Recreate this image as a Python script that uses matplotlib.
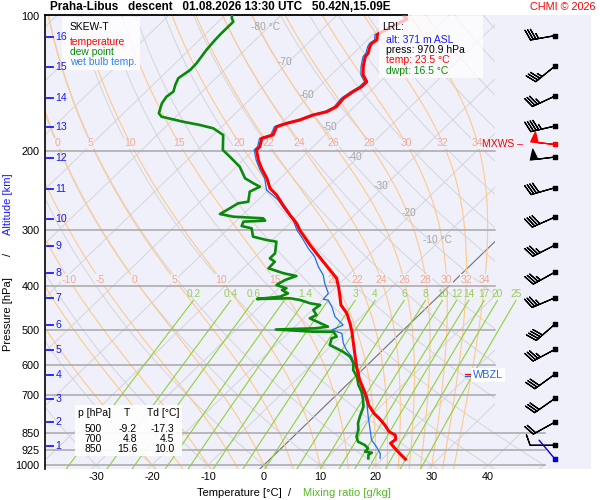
"""Skew-T diagram, Praha-Libus descent 01.08.2026 13:30 UTC."""

import numpy as np
import matplotlib.pyplot as plt
from matplotlib.patches import Polygon, Rectangle
from matplotlib.ticker import NullLocator, NullFormatter

plt.rcParams['font.family'] = ['Liberation Sans', 'DejaVu Sans']

# --- temperature profile (hPa, degC) ---
P_TEMP = [100.0, 101.6, 109.1, 110.1, 113.1, 115.0, 117.1, 121.1, 123.2, 129.7,
          135.3, 140.1, 143.7, 147.4, 152.5, 159.2, 163.4, 166.1, 170.5, 173.4,
          176.4, 184.1, 187.2, 195.5, 198.8, 209.3, 218.4, 229.9, 242.0, 250.4,
          263.6, 277.5, 289.5, 299.7, 323.6, 349.5, 367.9, 383.9, 400.8, 421.8,
          440.2, 459.4, 483.5, 504.8, 535.7, 573.9, 604.0, 646.7, 680.7, 704.5,
          735.1, 767.1, 791.1, 814.6, 843.0, 857.4, 876.5, 894.7, 917.9, 945.2,
          970.9]
T_TEMP = [-57.7, -56.8, -59.0, -59.2, -58.3, -58.6, -58.3, -57.4, -57.3, -55.8,
          -54.3, -52.4, -52.4, -53.0, -53.5, -53.2, -54.0, -55.8, -57.3, -59.0,
          -60.2, -59.3, -60.7, -59.5, -59.5, -57.3, -55.2, -52.4, -50.0, -47.6,
          -44.6, -41.5, -38.8, -37.0, -32.4, -27.5, -24.2, -21.5, -19.6, -17.5,
          -15.8, -13.2, -10.8, -8.9, -6.5, -3.7, -1.6, 1.4, 4.0, 5.7,
          7.6, 10.1, 12.3, 14.2, 16.2, 17.9, 18.8, 18.6, 20.3, 22.3,
          24.2]

# --- dew point ---
P_DWPT = [100.0, 101.2, 103.0, 104.7, 106.5, 109.3, 113.1, 119.0, 127.5, 131.9,
          137.6, 142.4, 147.4, 151.3, 156.5, 164.7, 167.6, 172.0, 174.9, 177.9,
          184.1, 198.8, 205.8, 216.6, 229.9, 235.8, 240.0, 246.2, 259.2, 261.3,
          270.5, 276.1, 279.9, 282.2, 285.7, 287.1, 293.6, 297.1, 310.1, 315.4,
          318.2, 337.7, 346.5, 352.6, 364.7, 374.1, 379.4, 387.3, 397.3, 404.1,
          407.6, 414.6, 421.8, 426.9, 425.3, 429.1, 436.4, 440.2, 451.7, 463.4,
          471.3, 492.0, 496.1, 499.1, 504.8, 504.8, 517.9, 522.2, 540.4, 549.7,
          559.4, 573.9, 593.6, 614.4, 635.9, 663.5, 686.7, 716.5, 741.6, 780.6,
          807.5, 835.7, 864.9, 887.4, 902.5, 917.9, 934.1, 938.9, 950.0, 966.2]
T_DWPT = [-88.6, -88.2, -87.3, -87.3, -87.3, -87.3, -87.2, -86.9, -86.2, -86.1,
          -86.7, -86.0, -85.1, -85.4, -85.0, -83.7, -82.6, -77.8, -74.2, -71.2,
          -68.2, -65.5, -63.0, -59.4, -56.3, -53.9, -52.1, -53.0, -51.4, -52.9,
          -53.7, -54.2, -51.3, -45.7, -44.9, -48.6, -48.1, -45.9, -44.1, -41.1,
          -39.0, -37.1, -37.1, -35.6, -35.5, -31.9, -29.1, -30.4, -31.0, -28.6,
          -29.1, -27.4, -28.2, -31.9, -26.1, -24.0, -21.6, -19.5, -19.8, -18.3,
          -18.9, -14.1, -16.1, -22.9, -15.8, -12.2, -10.7, -11.3, -10.4, -8.6,
          -6.8, -4.6, -2.8, -1.6, 0.3, 2.1, 3.9, 5.7, 7.0, 8.2,
          9.1, 10.4, 11.3, 12.5, 14.3, 15.5, 15.6, 17.0, 16.8, 17.4]

# --- wet bulb temperature ---
P_WBT = [100.0, 101.6, 109.1, 110.1, 113.1, 115.0, 117.1, 121.1, 123.2, 129.7,
         135.3, 140.1, 143.7, 147.4, 152.5, 159.2, 163.4, 166.1, 170.5, 173.4,
         176.4, 184.1, 187.2, 195.5, 198.8, 209.3, 218.4, 229.9, 244.1, 256.9,
         270.5, 284.7, 299.7, 315.4, 329.1, 343.6, 361.7, 377.4, 393.8, 414.6,
         427.6, 429.1, 444.1, 467.4, 479.6, 487.8, 500.4, 509.0, 535.7, 554.5,
         573.9, 614.4, 652.3, 686.7, 728.8, 780.6, 835.7, 879.7, 910.4, 941.8,
         966.2]
T_WBT = [-58.1, -57.2, -59.4, -59.6, -58.7, -59.0, -58.7, -57.8, -57.7, -56.2,
         -54.7, -52.8, -52.8, -53.4, -53.9, -53.6, -54.4, -56.2, -57.7, -59.4,
         -60.6, -59.7, -61.1, -59.9, -59.9, -57.7, -55.6, -52.8, -50.3, -46.4,
         -43.3, -40.0, -37.5, -34.5, -32.1, -29.4, -26.9, -24.5, -22.7, -20.2,
         -20.0, -19.0, -17.1, -14.7, -12.9, -11.7, -12.8, -10.4, -8.3, -6.5,
         -4.3, -1.0, 1.8, 4.2, 7.0, 9.7, 12.5, 14.6, 16.7, 18.6,
         19.5]

# --- wind (hPa, direction deg, speed kt) ---
P_WIND = [110.6, 129.2, 150.7, 175.8, 206.1, 241.2, 280.3, 323.6, 371.7,
          424.0, 485.3, 552.5, 627.1, 710.3, 802.1, 903.9]
DIR_WIND = [260, 231, 245, 257, 263, 254, 246, 243, 241, 247, 229, 242, 234,
            235, 241, 270]
SPD_WIND = [35, 35, 35, 45, 50, 40, 40, 35, 35, 35, 40, 35, 30, 30, 20, 10]
P_MXWS, DIR_MXWS, SPD_MXWS = 193.1, 276, 50
P_SFC_WIND, DIR_SFC_WIND = 971.2, 320

# --- altitude marks ---
KM = list(range(1, 17))
P_KM = [905.8, 803.3, 712.9, 630.4, 554.5, 487.8, 424.7, 373.6, 325.3, 283.2,
        243.2, 207.5, 176.7, 152.0, 130.1, 111.5]

# --- station / table ---
LRL_ALT, LRL_P, LRL_T, LRL_TD = 371, 970.9, 23.5, 16.5
TAB_P = [500, 700, 850]
TAB_T = [-9.2, 4.8, 15.6]
TAB_TD = [-17.3, 4.5, 10.0]
P_WBZL = 630

# --- diagram furniture ---
P_LEVELS = [100, 200, 300, 400, 500, 600, 700, 850, 925, 1000]
T_TICKS = [-30, -20, -10, 0, 10, 20, 30, 40]
ISO_LABELS = ['-80 °C', '-70', '-60', '-50', '-40', '-30', '-20', '-10 °C']
ISO_LABEL_T = [-80, -70, -60, -50, -40, -30, -20, -10]
ISO_LABEL_P = [105.8, 126.6, 150.0, 176.7, 206.1, 239.1, 274.7, 315.4]
THETA_W = [-20, -15, -10, -5, 0, 5, 10, 15, 20, 22, 24, 26, 28, 30, 32, 34]
TW_LAB_200 = [0, 5, 10, 15, 20, 22, 24, 26, 28, 30, 32, 34]
TW_LAB_400 = [-10, -5, 0, 5, 10, 15, 20, 22, 24, 26, 28, 30, 32, 34]
MIX = [0.2, 0.4, 0.6, 1.0, 1.4, 2.0, 3, 4, 6, 8, 10, 12, 14, 17, 20, 25]
MIX_LAB = ['0.2', '0.4', '0.6', '', '1.4', '', '3', '4', '6', '8', '10', '12',
           '14', '17', '20', '25']

SKEW = 36.0
X_LEFT, X_RIGHT = -39.1, 58.4
P_BOT, P_TOP = 1020.7, 99.5
X_GRID_END, X_LOW_END, P_STEP = 41.25, 50.2, 845
X_WIND = 52.0

BG = '#f0f0fb'
C_ISO = '#d4d4d8'
C_MOIST = '#ffc98a'
C_MIX = '#8fd137'
BLUE = '#1a1aff'
GREEN = '#0a8a0a'


def skew_x(t, p):
    return np.asarray(t, float) + SKEW * np.log(1000.0 / np.asarray(p, float))


def pseudo_adiabat(tw, p_grid):
    rd, cp, lv, eps = 287.04, 1005.7, 2.501e6, 0.622

    def rate(t, p):
        es = 6.112 * np.exp(17.67 * (t - 273.15) / (t - 29.65))
        rs = eps * es / (p - es)
        return (rd * t + lv * rs) / (cp + lv * lv * rs * eps / (rd * t * t)) / p

    t = tw + 273.15
    out = [t]
    for p0, p1 in zip(p_grid[:-1], p_grid[1:]):
        k1 = rate(t, p0)
        k2 = rate(t + k1 * (p1 - p0), p1)
        t = t + 0.5 * (k1 + k2) * (p1 - p0)
        out.append(t)
    return np.array(out) - 273.15


def dewpoint_from_w(w, p):
    e = w * p / (622.0 + w)
    a = np.log(e / 6.112)
    return 243.5 * a / (17.67 - a)


W, H = 600, 500
fig = plt.figure(figsize=(6, 5), dpi=100)


def fx(px):
    return px / W


def fy(py):
    return 1 - py / H


ax = fig.add_axes([fx(45), fy(469), 546 / W, 454 / H])
ax.set_facecolor(BG)
ax.set_yscale('log')
ax.set_xlim(X_LEFT, X_RIGHT)
ax.set_ylim(P_BOT, P_TOP)
ax.autoscale(False)

clip = Polygon([(X_LEFT, P_TOP), (X_GRID_END, P_TOP), (X_GRID_END, P_STEP),
                (X_LOW_END, P_STEP), (X_LOW_END, P_BOT), (X_LEFT, P_BOT)],
               closed=True, transform=ax.transData, fill=False, edgecolor='none')
ax.add_patch(clip)

p_line = np.geomspace(1025, 99, 120)

# isotherms
for t in range(-130, 60, 10):
    ln, = ax.plot(skew_x(t, p_line), p_line, color='#707070' if t == 0 else C_ISO,
                  lw=0.8 if t == 0 else 0.7, zorder=1)
    ln.set_clip_path(clip)

# dry adiabats
for th in range(-40, 190, 10):
    tt = (th + 273.15) * (p_line / 1000.0) ** 0.2857 - 273.15
    ln, = ax.plot(skew_x(tt, p_line), p_line, color=C_ISO, lw=0.7, zorder=1)
    ln.set_clip_path(clip)

# moist adiabats
p_up = np.geomspace(1000, 99, 260)
p_dn = np.geomspace(1000, 1025, 8)
for tw in THETA_W:
    t_up = pseudo_adiabat(tw, p_up)
    t_dn = pseudo_adiabat(tw, p_dn)
    pp = np.concatenate([p_dn[::-1], p_up[1:]])
    tt = np.concatenate([t_dn[::-1], t_up[1:]])
    ln, = ax.plot(skew_x(tt, pp), pp, color=C_MOIST, lw=0.8, zorder=1.2)
    ln.set_clip_path(clip)
    for labs, pl in ((TW_LAB_200, 192.0), (TW_LAB_400, 387.0)):
        if tw in labs:
            xl = np.interp(np.log(pl), np.log(p_up[::-1]), skew_x(t_up, p_up)[::-1])
            ax.text(xl, pl, str(tw), color='#f5a78c', fontsize=7.5, ha='center',
                    va='center', zorder=1.6,
                    bbox=dict(facecolor=BG, edgecolor='none', pad=0.4))

# mixing ratio lines
p_mix = np.geomspace(1025, 430, 40)
for w, lab in zip(MIX, MIX_LAB):
    td = dewpoint_from_w(w, p_mix)
    ax.plot(skew_x(td, p_mix), p_mix, color=C_MIX, lw=0.8, zorder=1.3)
    if lab:
        ax.text(skew_x(td[-1], 430), 416, lab, color='#95cf55', fontsize=7.3,
                ha='center', va='center', zorder=1.6)

# isotherm labels
for lab, t, p in zip(ISO_LABELS, ISO_LABEL_T, ISO_LABEL_P):
    ax.text(skew_x(t, p) - 0.6, p, lab, color='#a4a4a4', fontsize=7.3,
            ha='center', va='center', zorder=1.6)

# pressure levels
for p in P_LEVELS[1:]:
    xe = X_LOW_END if p > P_STEP else X_GRID_END
    ax.plot([X_LEFT, xe], [p, p], color='#a8a8a8', lw=1.1, zorder=1.5)
ax.plot([X_LEFT, 25.5], [P_TOP, P_TOP], color='k', lw=1.3, zorder=3,
        clip_on=False)

# profiles
ax.plot(skew_x(T_WBT, P_WBT), P_WBT, color='#1f6fe5', lw=0.9, zorder=4)
ax.plot(skew_x(T_DWPT, P_DWPT), P_DWPT, color=GREEN, lw=1.9, zorder=5)
ax.plot(skew_x(T_TEMP, P_TEMP), P_TEMP, color='#ff0000', lw=2.2, zorder=6)

# winds
spd = np.array(SPD_WIND, float)
rad = np.radians(DIR_WIND)
bkw = dict(length=6, linewidth=0.9, sizes=dict(spacing=0.11, height=0.42, width=0.3),
           clip_on=False, zorder=7)
ax.barbs(np.full(len(P_WIND), X_WIND), P_WIND, -spd * np.sin(rad), -spd * np.cos(rad),
         barbcolor='k', flagcolor='k', **bkw)
ax.scatter(np.full(len(P_WIND), X_WIND), P_WIND, marker='s', s=8, color='k',
           clip_on=False, zorder=8)
rm = np.radians(DIR_MXWS)
ax.barbs([X_WIND], [P_MXWS], [-SPD_MXWS * np.sin(rm)], [-SPD_MXWS * np.cos(rm)],
         barbcolor='red', flagcolor='red', **bkw)
ax.scatter([X_WIND], [P_MXWS], marker='s', s=8, color='red', clip_on=False, zorder=8)
rs = np.radians(DIR_SFC_WIND)
ax.annotate('', xy=(X_WIND, P_SFC_WIND),
            xytext=(18 * np.sin(rs), 18 * np.cos(rs)), textcoords='offset points',
            arrowprops=dict(arrowstyle='-', color='#0000dd', lw=1.0,
                            shrinkA=0, shrinkB=0), zorder=7)
ax.scatter([X_WIND], [P_SFC_WIND], marker='s', s=8, color='#0000dd',
           clip_on=False, zorder=8)
ax.text(38.9, P_MXWS, 'MXWS –', color='red', fontsize=7.5, ha='left',
        va='center', zorder=7)

# WBZL marker
ax.plot([35.9, 36.9], [P_WBZL * 0.993, P_WBZL * 0.993], color='red', lw=0.9, zorder=7)
ax.plot([35.9, 36.9], [P_WBZL * 1.006, P_WBZL * 1.006], color='#2266dd', lw=0.9,
        zorder=7)
ax.text(37.3, P_WBZL, 'WBZL', color='#2266dd', fontsize=7.8, ha='left',
        va='center', zorder=7,
        bbox=dict(facecolor='white', edgecolor='none', pad=1.2))

# boxes (drawn inside the axes so that the altitude marks stay on top)
tf = fig.transFigure


def box(x0, y0, x1, y1, alpha):
    ax.add_patch(Rectangle((fx(x0), fy(y1)), (x1 - x0) / W, (y1 - y0) / H,
                           transform=tf, facecolor='white', alpha=alpha,
                           edgecolor='none', zorder=6.5, clip_on=False))


def btext(x, y, s, **kw):
    kw.setdefault('fontsize', 7.5)
    ax.text(fx(x), fy(y), s, transform=tf, va='center', zorder=7.5, **kw)


box(62, 17, 140, 70, 0.85)
btext(70, 27, 'SKEW-T', fontsize=7.4)
for i, (s, c) in enumerate([('temperature', 'red'), ('dew point', GREEN),
                            ('wet bulb temp.', '#3080ff')]):
    btext(70, 42 + 10 * i, s, color=c, fontsize=7.4)

box(379, 16, 483, 78, 0.75)
btext(382, 27, 'LRL:')
lrl = [(f'alt: {LRL_ALT} m ASL', BLUE), (f'press: {LRL_P:.1f} hPa', 'black'),
       (f'temp: {LRL_T:.1f} °C', 'red'), (f'dwpt: {LRL_TD:.1f} °C', GREEN)]
for i, (s, c) in enumerate(lrl):
    btext(386, 40 + 10.2 * i, s, color=c)

box(75, 405, 182, 456, 0.92)
btext(78, 413, 'p [hPa]')
btext(127, 413, 'T', ha='center')
btext(147, 413, 'Td [°C]')
for i, (p, t, td) in enumerate(zip(TAB_P, TAB_T, TAB_TD)):
    yy = 429 + 10 * i
    btext(102, yy, str(p), ha='right')
    btext(137, yy, f'{t:.1f}', ha='right')
    btext(174, yy, f'{td:.1f}', ha='right')

# altitude marks
for km, p in zip(KM, P_KM):
    ax.plot([X_LEFT + 0.3, X_LEFT + 1.5], [p, p], color=BLUE, lw=1.3, zorder=8)
    ax.text(X_LEFT + 1.9, p, str(km), color=BLUE, fontsize=7.6, ha='left',
            va='center', zorder=8)

# axes look
for side in ('top', 'right', 'bottom'):
    ax.spines[side].set_visible(False)
ax.spines['left'].set_color('k')
ax.spines['left'].set_linewidth(1.2)
ax.yaxis.set_minor_locator(NullLocator())
ax.yaxis.set_minor_formatter(NullFormatter())
ax.set_yticks(P_LEVELS, labels=[str(p) for p in P_LEVELS])
ax.set_xticks(T_TICKS, labels=[str(t) for t in T_TICKS])
ax.tick_params(axis='y', length=0, pad=4, labelsize=7.8)
ax.tick_params(axis='x', length=0, pad=2, labelsize=7.8)

# titles and axis labels
fig.text(fx(50), fy(7.5), 'Praha-Libus   descent   01.08.2026 13:30 UTC   50.42N,15.09E',
         fontsize=8.5, fontweight='bold', va='center')
fig.text(fx(596), fy(7.5), 'CHMI © 2026', color='red', fontsize=7.8, va='center',
         ha='right')
fig.text(fx(197), fy(493), 'Temperature [°C]', fontsize=8, va='center')
fig.text(fx(288), fy(493), '/', fontsize=8, va='center')
fig.text(fx(303), fy(493), 'Mixing ratio [g/kg]', color='#55bb22', fontsize=8,
         va='center')
fig.text(fx(8), fy(314), 'Pressure [hPa]', rotation=90, fontsize=8, va='center',
         ha='center')
fig.text(fx(8), fy(254), '/', rotation=90, fontsize=8, va='center', ha='center')
fig.text(fx(8), fy(204), 'Altitude [km]', rotation=90, color=BLUE, fontsize=8,
         va='center', ha='center')

fig.savefig('out.png', dpi=100)
